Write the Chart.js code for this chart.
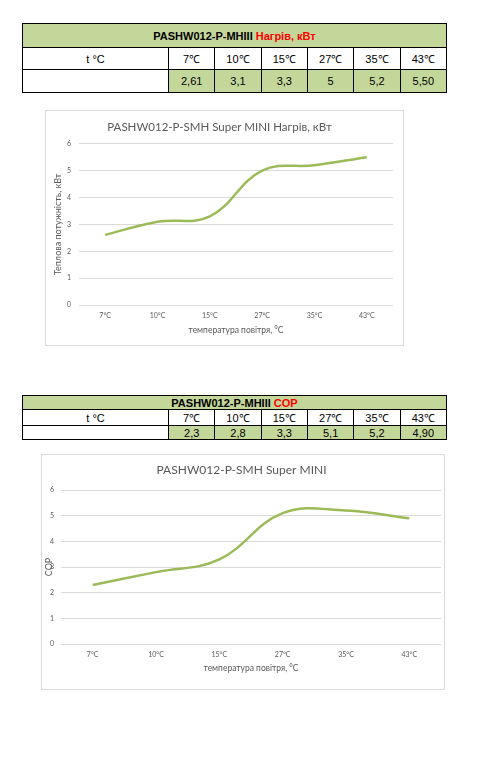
<!DOCTYPE html>
<html>
<head>
<meta charset="utf-8">
<script src="https://cdn.jsdelivr.net/npm/chart.js@4"></script>
<style>
  body { margin: 0; background: #fff; width: 504px; height: 778px; position: relative; overflow: hidden; }
  table.spec { position: absolute; left: 22px; width: 425px; border-collapse: collapse; table-layout: fixed;
    font-family: "Liberation Sans", Arial, sans-serif; font-size: 11px; color: #000; }
  table.spec td { border: 1px solid #000; text-align: center; padding: 0; }
  table.spec td.head { background: #C4D79B; font-weight: bold; }
  table.spec td.val { background: #C4D79B; }
  table.spec .red { color: #FF0000; }
  .box { position: absolute; border: 1px solid #D9D9D9; box-sizing: border-box; background: #fff; }
  .box canvas { display: block; }
</style>
</head>
<body>

<table class="spec" id="heatTable" style="top:23px"></table>
<div class="box" style="left:45px; top:110px; width:359px; height:236px;">
  <canvas id="heatChart" width="357" height="234"></canvas>
</div>

<table class="spec" id="copTable" style="top:395px"></table>
<div class="box" style="left:41px; top:454px; width:404px; height:236px;">
  <canvas id="copChart" width="402" height="234"></canvas>
</div>

<script>
// Data
const temps = [7, 10, 15, 27, 35, 43];
const heatValues = [2.61, 3.1, 3.3, 5, 5.2, 5.5];
const heatText = ['2,61', '3,1', '3,3', '5', '5,2', '5,50'];
const copValues = [2.3, 2.8, 3.3, 5.1, 5.2, 4.9];
const copText = ['2,3', '2,8', '3,3', '5,1', '5,2', '4,90'];

const chartLabels = temps.map(t => t + '°C');
const tableLabels = temps.map(t => t + '℃');

const lineColor = '#9BBB59';
const textColor = '#595959';
const gridColor = '#D9D9D9';
const chartFont = 'Lato, "Open Sans", sans-serif';

// Build one of the spec tables
function buildTable(id, title, redPart, values, rowHeights) {
    const table = document.getElementById(id);
    let html = '<colgroup><col style="width:146px">';
    for (let i = 0; i < values.length; i++) html += '<col>';
    html += '</colgroup>';
    html += `<tr style="height:${rowHeights[0]}px"><td class="head" colspan="7">${title} <span class="red">${redPart}</span></td></tr>`;
    html += `<tr style="height:${rowHeights[1]}px"><td>t °C</td>`;
    tableLabels.forEach(l => { html += `<td>${l}</td>`; });
    html += '</tr>';
    html += `<tr style="height:${rowHeights[2]}px"><td></td>`;
    values.forEach(v => { html += `<td class="val">${v}</td>`; });
    html += '</tr>';
    table.innerHTML = html;
}

buildTable('heatTable', 'PASHW012-P-MHIII', 'Нагрів, кВт', heatText, [24, 22, 23]);
buildTable('copTable', 'PASHW012-P-MHIII', 'COP', copText, [14, 14, 14]);

function makeChart(id, values, cfg) {
    return new Chart(document.getElementById(id), {
        type: 'line',
        data: {
            labels: chartLabels,
            datasets: [{
                data: values,
                borderColor: lineColor,
                borderWidth: 2.5,
                pointRadius: 0,
                tension: 0.4,
                fill: false
            }]
        },
        options: {
            responsive: false,
            animation: false,
            layout: { padding: { left: 0, right: cfg.rightPad, top: 0, bottom: 0 } },
            plugins: {
                legend: { display: false },
                tooltip: { enabled: false },
                title: {
                    display: true,
                    text: cfg.title,
                    color: textColor,
                    font: { family: chartFont, size: cfg.titleSize, weight: 'normal' },
                    padding: cfg.titlePad
                }
            },
            scales: {
                x: {
                    offset: true,
                    grid: { display: false, drawTicks: false },
                    border: { display: false },
                    ticks: { color: textColor, font: { family: chartFont, size: 7 }, padding: 7, maxRotation: 0 },
                    title: {
                        display: true,
                        text: 'температура повітря, °C',
                        color: textColor,
                        font: { family: chartFont, size: 8.5 },
                        padding: { top: 0, bottom: cfg.xTitlePad }
                    },
                    afterFit: scale => { scale.height = cfg.xHeight; }
                },
                y: {
                    min: 0,
                    max: 6,
                    ticks: { stepSize: 1, color: textColor, font: { family: chartFont, size: 7 }, padding: cfg.yTickPad },
                    grid: { color: gridColor, lineWidth: 1, drawTicks: false },
                    border: { display: false },
                    title: {
                        display: true,
                        text: cfg.yTitle,
                        color: textColor,
                        font: { family: chartFont, size: 9 },
                        padding: { top: cfg.yTitlePad, bottom: 0 }
                    },
                    afterFit: scale => { scale.width = cfg.yWidth; }
                }
            }
        }
    });
}

makeChart('heatChart', heatValues, {
    title: 'PASHW012-P-SMH Super MINI Нагрів, кВт',
    titleSize: 11.5,
    titlePad: { top: 9, bottom: 10 },
    rightPad: 10,
    xHeight: 40,
    xTitlePad: 10,
    yWidth: 33,
    yTickPad: 8,
    yTitle: 'Теплова потужність, кВт',
    yTitlePad: 6.5
});

makeChart('copChart', copValues, {
    title: 'PASHW012-P-SMH Super MINI',
    titleSize: 12,
    titlePad: { top: 8, bottom: 12.6 },
    rightPad: 3,
    xHeight: 45,
    xTitlePad: 16,
    yWidth: 19,
    yTickPad: 7,
    yTitle: 'COP',
    yTitlePad: 2
});
</script>
</body>
</html>
